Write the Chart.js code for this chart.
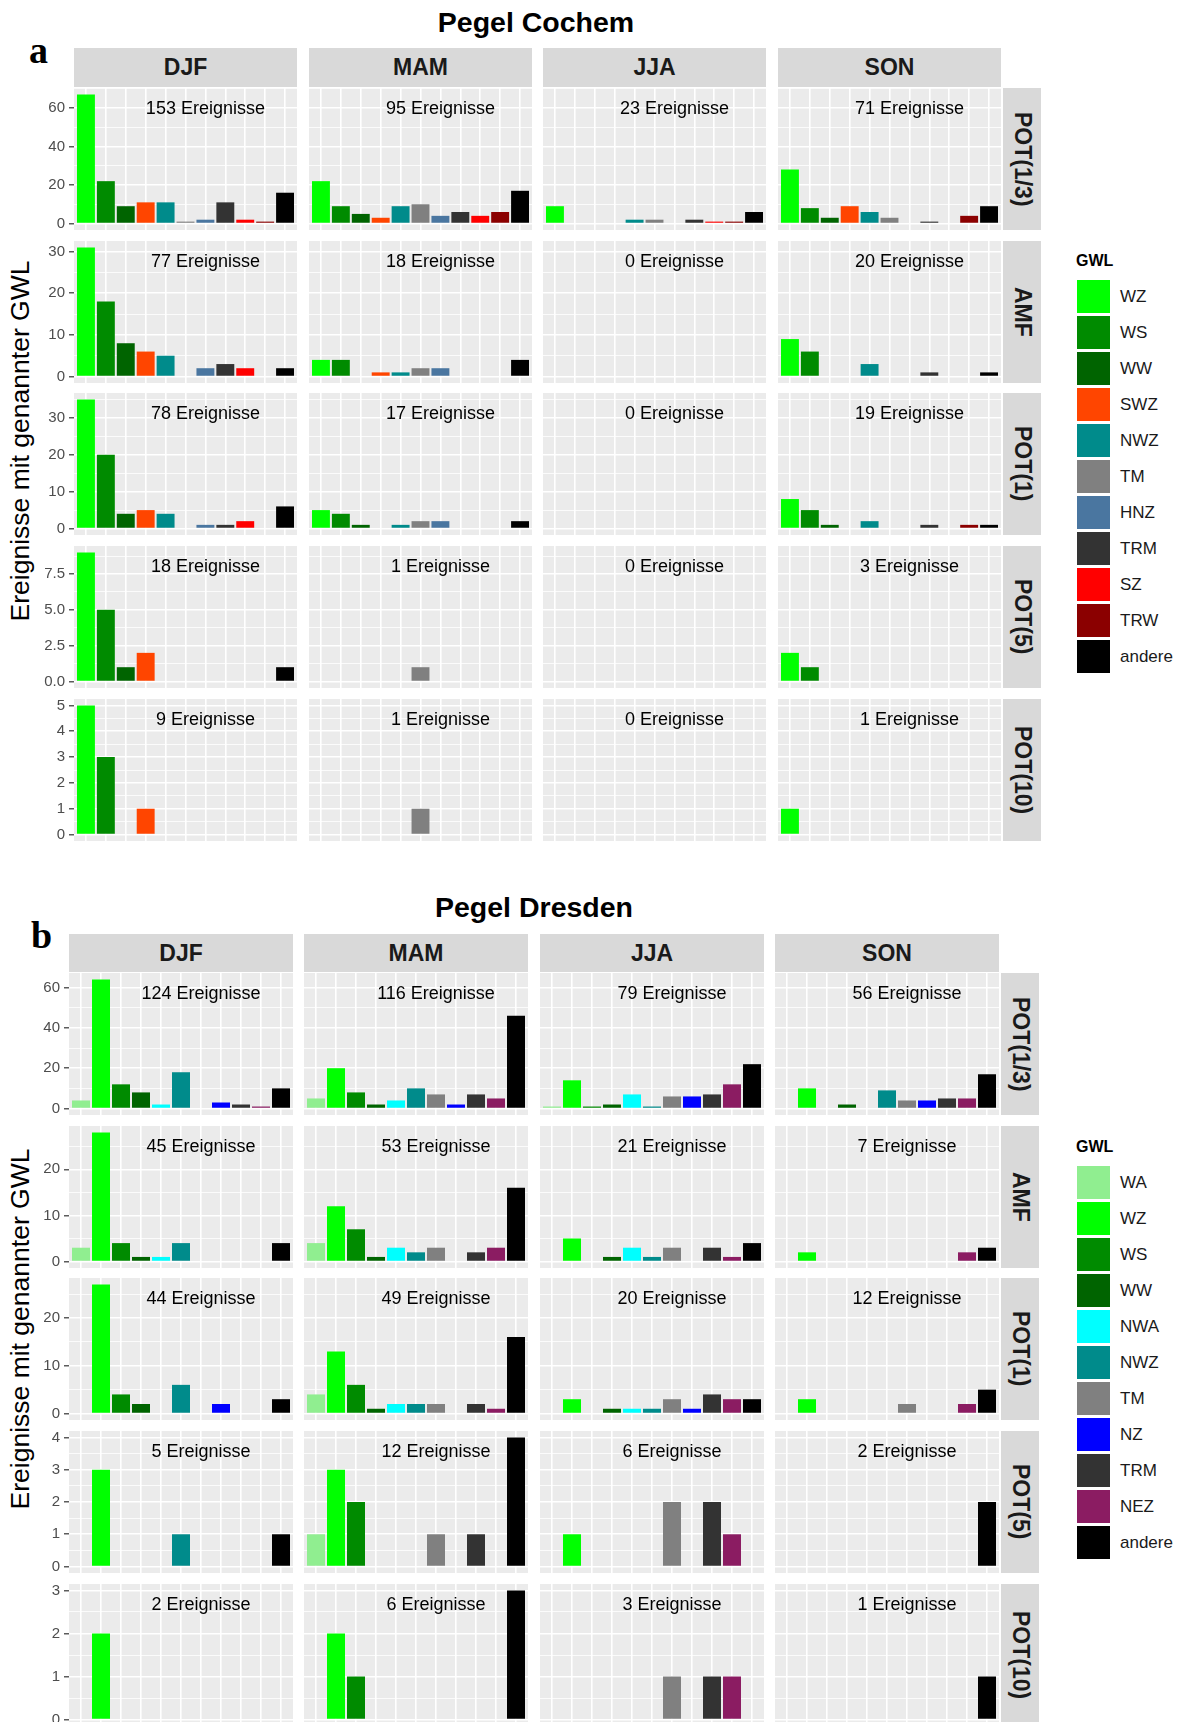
<!DOCTYPE html>
<html>
<head>
<meta charset="utf-8">
<script src="https://cdn.jsdelivr.net/npm/chart.js@4.4.1/dist/chart.umd.min.js"></script>
<style>
  html, body { margin: 0; padding: 0; background: #fff; }
  body { width: 1182px; height: 1722px; overflow: hidden; position: relative; font-family: "Liberation Sans", Arial, sans-serif; }
  .abs { position: absolute; }
  .title { font-weight: bold; font-size: 28.5px; color: #000; white-space: nowrap; transform: translate(-50%, -50%); }
  .letter { font-family: "Liberation Serif", "Times New Roman", serif; font-weight: bold; font-size: 38px; line-height: 1; }
  .strip { background: #D9D9D9; color: #1A1A1A; font-weight: bold; font-size: 23px; display: flex; align-items: center; justify-content: center; }
  .rstrip { writing-mode: vertical-rl; }
  .ytitle { font-size: 26.5px; white-space: nowrap; transform: translate(-50%, -50%) rotate(-90deg); }
  .legtitle { font-weight: bold; font-size: 16px; color: #000; }
  .key { width: 33px; height: 33px; }
  .keylab { font-size: 17px; color: #1A1A1A; transform: translateY(-50%); }
</style>
</head>
<body>
<script>
// ---------- data ----------
const seasons = ['DJF', 'MAM', 'JJA', 'SON'];
const thresholds = ['POT(1/3)', 'AMF', 'POT(1)', 'POT(5)', 'POT(10)'];

// Pegel Cochem
const gwlCochem = ['WZ', 'WS', 'WW', 'SWZ', 'NWZ', 'TM', 'HNZ', 'TRM', 'SZ', 'TRW', 'andere'];
const cochemPot13 = [[67, 22, 9, 11, 11, 1, 2, 11, 2, 1, 16], [22, 9, 5, 3, 9, 10, 4, 6, 4, 6, 17], [9, 0, 0, 0, 2, 2, 0, 2, 1, 1, 6], [28, 8, 3, 9, 6, 3, 0, 1, 0, 4, 9]];
const cochemAmf = [[31, 18, 8, 6, 5, 0, 2, 3, 2, 0, 2], [4, 4, 0, 1, 1, 2, 2, 0, 0, 0, 4], [0, 0, 0, 0, 0, 0, 0, 0, 0, 0, 0], [9, 6, 0, 0, 3, 0, 0, 1, 0, 0, 1]];
const cochemPot1 = [[35, 20, 4, 5, 4, 0, 1, 1, 2, 0, 6], [5, 4, 1, 0, 1, 2, 2, 0, 0, 0, 2], [0, 0, 0, 0, 0, 0, 0, 0, 0, 0, 0], [8, 5, 1, 0, 2, 0, 0, 1, 0, 1, 1]];
const cochemPot5 = [[9, 5, 1, 2, 0, 0, 0, 0, 0, 0, 1], [0, 0, 0, 0, 0, 1, 0, 0, 0, 0, 0], [0, 0, 0, 0, 0, 0, 0, 0, 0, 0, 0], [2, 1, 0, 0, 0, 0, 0, 0, 0, 0, 0]];
const cochemPot10 = [[5, 3, 0, 1, 0, 0, 0, 0, 0, 0, 0], [0, 0, 0, 0, 0, 1, 0, 0, 0, 0, 0], [0, 0, 0, 0, 0, 0, 0, 0, 0, 0, 0], [1, 0, 0, 0, 0, 0, 0, 0, 0, 0, 0]];
const cochemEvents = [[153, 95, 23, 71], [77, 18, 0, 20], [78, 17, 0, 19], [18, 1, 0, 3], [9, 1, 0, 1]];
const cochemTicks = [[0, 20, 40, 60], [0, 10, 20, 30], [0, 10, 20, 30], [0, 2.5, 5, 7.5], [0, 1, 2, 3, 4, 5]];
const cochemTickLabels = [['0', '20', '40', '60'], ['0', '10', '20', '30'], ['0', '10', '20', '30'], ['0.0', '2.5', '5.0', '7.5'], ['0', '1', '2', '3', '4', '5']];

// Pegel Dresden
const gwlDresden = ['WA', 'WZ', 'WS', 'WW', 'NWA', 'NWZ', 'TM', 'NZ', 'TRM', 'NEZ', 'andere'];
const dresdenPot13 = [[4, 64, 12, 8, 2, 18, 0, 3, 2, 1, 10], [5, 20, 8, 2, 4, 10, 7, 2, 7, 5, 46], [1, 14, 1, 2, 7, 1, 6, 6, 7, 12, 22], [0, 10, 0, 2, 0, 9, 4, 4, 5, 5, 17]];
const dresdenAmf = [[3, 28, 4, 1, 1, 4, 0, 0, 0, 0, 4], [4, 12, 7, 1, 3, 2, 3, 0, 2, 3, 16], [0, 5, 0, 1, 3, 1, 3, 0, 3, 1, 4], [0, 2, 0, 0, 0, 0, 0, 0, 0, 2, 3]];
const dresdenPot1 = [[0, 27, 4, 2, 0, 6, 0, 2, 0, 0, 3], [4, 13, 6, 1, 2, 2, 2, 0, 2, 1, 16], [0, 3, 0, 1, 1, 1, 3, 1, 4, 3, 3], [0, 3, 0, 0, 0, 0, 2, 0, 0, 2, 5]];
const dresdenPot5 = [[0, 3, 0, 0, 0, 1, 0, 0, 0, 0, 1], [1, 3, 2, 0, 0, 0, 1, 0, 1, 0, 4], [0, 1, 0, 0, 0, 0, 2, 0, 2, 1, 0], [0, 0, 0, 0, 0, 0, 0, 0, 0, 0, 2]];
const dresdenPot10 = [[0, 2, 0, 0, 0, 0, 0, 0, 0, 0, 0], [0, 2, 1, 0, 0, 0, 0, 0, 0, 0, 3], [0, 0, 0, 0, 0, 0, 1, 0, 1, 1, 0], [0, 0, 0, 0, 0, 0, 0, 0, 0, 0, 1]];
const dresdenEvents = [[124, 116, 79, 56], [45, 53, 21, 7], [44, 49, 20, 12], [5, 12, 6, 2], [2, 6, 3, 1]];
const dresdenTicks = [[0, 20, 40, 60], [0, 10, 20], [0, 10, 20], [0, 1, 2, 3, 4], [0, 1, 2, 3]];
const dresdenTickLabels = [['0', '20', '40', '60'], ['0', '10', '20'], ['0', '10', '20'], ['0', '1', '2', '3', '4'], ['0', '1', '2', '3']];

// ---------- styles ----------
const colorsCochem = ['#00FF00', '#008B00', '#006400', '#FF4500', '#008B8B', '#808080', '#4A76A0', '#333333', '#FF0000', '#8B0000', '#000000'];
const colorsDresden = ['#90EE90', '#00FF00', '#008B00', '#006400', '#00FFFF', '#008B8B', '#808080', '#0000FF', '#333333', '#8B1C62', '#000000'];

const PAD = 12;
const figures = [
  { title: 'Pegel Cochem', letter: 'a', gwl: gwlCochem, colors: colorsCochem,
    rows: [cochemPot13, cochemAmf, cochemPot1, cochemPot5, cochemPot10], events: cochemEvents,
    ticks: cochemTicks, tickLabels: cochemTickLabels,
    titleX: 536, titleY: 22, letterX: 29, letterY: 31, stripTop: 48,
    x0: 74, pitchX: 234.7, panelW: 223, y0: 88, pitchY: 152.7, panelH: 142, rstripX: 1003,
    yTitleY: 441, legX: 1077, legTitleY: 252, legY: 280 },
  { title: 'Pegel Dresden', letter: 'b', gwl: gwlDresden, colors: colorsDresden,
    rows: [dresdenPot13, dresdenAmf, dresdenPot1, dresdenPot5, dresdenPot10], events: dresdenEvents,
    ticks: dresdenTicks, tickLabels: dresdenTickLabels,
    titleX: 534, titleY: 907, letterX: 31, letterY: 916, stripTop: 934,
    x0: 69, pitchX: 235.4, panelW: 224, y0: 973, pitchY: 152.7, panelH: 142, rstripX: 1001,
    yTitleY: 1329, legX: 1077, legTitleY: 1138, legY: 1166 }
];

const panelBg = {
  id: 'panelBg',
  beforeDraw(chart) {
    const { ctx, chartArea: a } = chart;
    ctx.save();
    ctx.fillStyle = '#EBEBEB';
    ctx.fillRect(a.left, a.top, a.right - a.left, a.bottom - a.top);
    ctx.restore();
  }
};

const eventLabel = {
  id: 'eventLabel',
  afterDatasetsDraw(chart, args, opts) {
    const { ctx, scales: { x, y } } = chart;
    ctx.save();
    ctx.font = '18px "Liberation Sans", Arial, sans-serif';
    ctx.fillStyle = '#000';
    ctx.textAlign = 'center';
    ctx.textBaseline = 'middle';
    ctx.fillText(opts.text, x.getPixelForValue(opts.xAt), y.getPixelForValue(opts.yAt) + 2);
    ctx.restore();
  }
};

function addDiv(cls, css, text) {
  const d = document.createElement('div');
  d.className = 'abs ' + cls;
  d.style.cssText = css;
  if (text !== undefined) d.textContent = text;
  document.body.appendChild(d);
  return d;
}

// major breaks plus ggplot-like minor breaks halfway between them
function gridValues(major, lo, hi) {
  const step = major[1] - major[0];
  const vals = major.slice();
  for (let k = -1; k < major.length; k++) {
    const m = major[0] + step * (k + 0.5);
    if (m > lo && m < hi) vals.push(m);
  }
  return vals.sort((a, b) => a - b);
}

function drawPanel(fig, r, c) {
  const values = fig.rows[r][c];
  const ymax = Math.max(...fig.rows[r].flat());
  const ymin = -0.05 * ymax, ytop = 1.05 * ymax;
  const major = fig.ticks[r];
  const grid = gridValues(major, ymin, ytop);
  const left = Math.round(fig.x0 + c * fig.pitchX);
  const top = Math.round(fig.y0 + r * fig.pitchY);
  const axisW = c === 0 ? left : 0;
  const W = fig.panelW + axisW, H = fig.panelH + 2 * PAD;
  const cv = document.createElement('canvas');
  cv.width = W; cv.height = H;
  cv.style.cssText = `position:absolute;left:${left - axisW}px;top:${top - PAD}px;width:${W}px;height:${H}px`;
  document.body.appendChild(cv);
  const isMajor = v => major.includes(v);

  new Chart(cv, {
    type: 'bar',
    data: {
      datasets: [{
        data: values.map((v, i) => ({ x: i, y: v })),
        backgroundColor: fig.colors,
        borderWidth: 0,
        barPercentage: 0.9,
        categoryPercentage: 1.0
      }]
    },
    options: {
      responsive: false,
      animation: false,
      events: [],
      layout: { padding: { top: PAD, bottom: PAD, left: 0, right: 0 } },
      plugins: {
        legend: { display: false },
        tooltip: { enabled: false },
        eventLabel: { text: fig.events[r][c] + ' Ereignisse', xAt: 6, yAt: 0.9 * ymax }
      },
      scales: {
        x: {
          type: 'linear',
          offset: false,
          min: -0.6,
          max: fig.gwl.length - 0.4,
          afterBuildTicks: ax => { ax.ticks = fig.gwl.map((_, i) => ({ value: i })); },
          afterFit: ax => { ax.height = 0; },
          ticks: { display: false },
          grid: { offset: false, color: '#FFFFFF', lineWidth: 1.6, drawTicks: false },
          border: { display: false }
        },
        y: {
          type: 'linear',
          min: ymin,
          max: ytop,
          afterBuildTicks: ax => { ax.ticks = grid.map(v => ({ value: v })); },
          afterFit: ax => { ax.width = axisW; ax.paddingTop = 0; ax.paddingBottom = 0; },
          ticks: {
            display: c === 0,
            autoSkip: false,
            padding: 4,
            color: '#4D4D4D',
            font: { family: '"Liberation Sans", Arial, sans-serif', size: 15 },
            callback: v => { const i = major.indexOf(v); return i >= 0 ? fig.tickLabels[r][i] : ''; }
          },
          grid: {
            color: '#FFFFFF',
            lineWidth: ctx => isMajor(ctx.tick.value) ? 1.6 : 0.8,
            drawTicks: c === 0,
            tickLength: 5,
            tickWidth: 1.2,
            tickColor: ctx => isMajor(ctx.tick.value) ? '#333333' : 'rgba(0,0,0,0)'
          },
          border: { display: false }
        }
      }
    },
    plugins: [panelBg, eventLabel]
  });
}

figures.forEach(fig => {
  addDiv('title', `left:${fig.titleX}px;top:${fig.titleY}px`, fig.title);
  addDiv('letter', `left:${fig.letterX}px;top:${fig.letterY}px`, fig.letter);
  addDiv('ytitle', `left:20px;top:${fig.yTitleY}px`, 'Ereignisse mit genannter GWL');

  seasons.forEach((s, c) => {
    const left = Math.round(fig.x0 + c * fig.pitchX);
    addDiv('strip', `left:${left}px;top:${fig.stripTop}px;width:${fig.panelW}px;height:${fig.y0 - fig.stripTop - 1}px`, s);
  });
  thresholds.forEach((t, r) => {
    const top = Math.round(fig.y0 + r * fig.pitchY);
    addDiv('strip rstrip', `left:${fig.rstripX}px;top:${top}px;width:38px;height:${fig.panelH}px`, t);
    seasons.forEach((s, c) => drawPanel(fig, r, c));
  });

  addDiv('legtitle', `left:${fig.legX - 1}px;top:${fig.legTitleY}px`, 'GWL');
  fig.gwl.forEach((g, i) => {
    const y = fig.legY + i * 36;
    addDiv('key', `left:${fig.legX}px;top:${y}px;background:${fig.colors[i]}`);
    addDiv('keylab', `left:${fig.legX + 43}px;top:${y + 17}px`, g);
  });
});
</script>
</body>
</html>
